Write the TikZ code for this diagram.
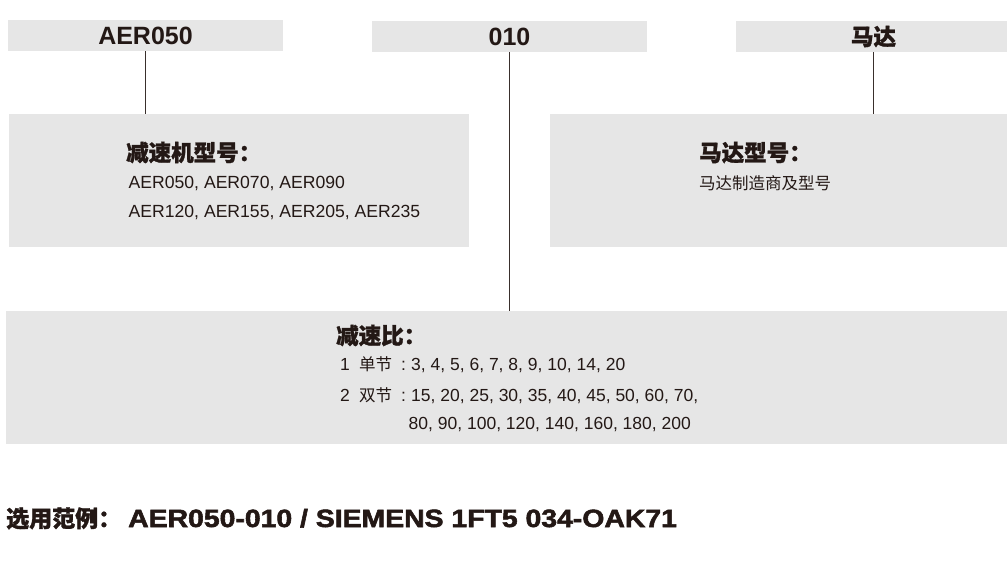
\documentclass[tikz,border=0pt]{standalone}
\usepackage{fontspec}
\setmainfont{Liberation Sans}
\newfontfamily\cjk{Noto Sans CJK SC}[BoldFeatures={FakeBold=1.2}]
\newfontfamily\heavy{Liberation Sans}[BoldFeatures={FakeBold=2}]
\definecolor{ink}{HTML}{231815}
\definecolor{boxgray}{HTML}{E6E6E6}
\begin{document}
\begin{tikzpicture}[x=1pt,y=-1pt,
  box/.style={fill=boxgray, draw=none, inner sep=0pt, rectangle},
  toplabel/.style={font=\fontsize{25}{30}\selectfont\bfseries, text=ink},
  cjktop/.style={font=\fontsize{22.5}{26}\selectfont\cjk\bfseries, text=ink},
  cjkhead/.style={font=\fontsize{22.5}{26}\selectfont\cjk\bfseries, text=ink, anchor=base west, inner sep=0pt},
  cjkbody/.style={font=\fontsize{16.5}{20}\selectfont\cjk, text=ink, anchor=base west, inner sep=0pt},
  body/.style={font=\fontsize{17.6}{21}\selectfont, text=ink, anchor=base west, inner sep=0pt},
  ratio/.style={font=\fontsize{17.5}{21}\selectfont, text=ink, anchor=base west, inner sep=0pt},
  link/.style={draw=ink!90, line width=1pt}]
\useasboundingbox (0,0) rectangle (1007,560);
% top boxes
\node[box, minimum width=275pt, minimum height=31pt, toplabel] (A) at (145.5,35.5) {AER050};
\node[box, minimum width=275pt, minimum height=31pt, toplabel] (B) at (509.5,36.5) {010};
\node[box, minimum width=275pt, minimum height=31pt, cjktop] (C) at (873.5,36.5) {马达};
% panels
\node[box, minimum width=460pt, minimum height=133pt] (D) at (239,180.5) {};
\node[box, minimum width=460pt, minimum height=133pt] (E) at (780,180.5) {};
\node[box, minimum width=1004pt, minimum height=133pt] (F) at (508,377.5) {};
% connectors
\draw[link] (A.south) -- (A.south |- D.north);
\draw[link] (B.south) -- (B.south |- F.north);
\draw[link] (C.south) -- (C.south |- E.north);
% panel D
\node[cjkhead] (dh) at (126,161) {减速机型号：};
\node[body] (d1) at (128.5,188) {AER050, AER070, AER090};
\node[body] (d2) at (128.5,217) {AER120, AER155, AER205, AER235};
% panel E
\node[cjkhead] (eh) at (699,161) {马达型号：};
\node[cjkbody] (e1) at (699,189) {马达制造商及型号};
% panel F
\node[cjkhead] (fh) at (336,344) {减速比：};
\node[ratio] (r1) at (340,370) {\makebox[19pt][l]{1}\makebox[42pt][l]{\fontsize{16.5}{20}\selectfont\cjk 单节}\makebox[10pt][l]{:}3, 4, 5, 6, 7, 8, 9, 10, 14, 20};
\node[ratio] (r2) at (340,401) {\makebox[19pt][l]{2}\makebox[42pt][l]{\fontsize{16.5}{20}\selectfont\cjk 双节}\makebox[10pt][l]{:}15, 20, 25, 30, 35, 40, 45, 50, 60, 70,};
\node[ratio] (r3) at (408.5,429) {80, 90, 100, 120, 140, 160, 180, 200};
% example
\node[anchor=base west, inner sep=0pt, text=ink] (ex) at (6,527) {\makebox[122pt][l]{\fontsize{23}{26}\selectfont\cjk\bfseries 选用范例：}\scalebox{1.135}[1]{\fontsize{25}{30}\selectfont\heavy\bfseries AER050-010 / SIEMENS 1FT5 034-OAK71}};
\end{tikzpicture}
\end{document}
